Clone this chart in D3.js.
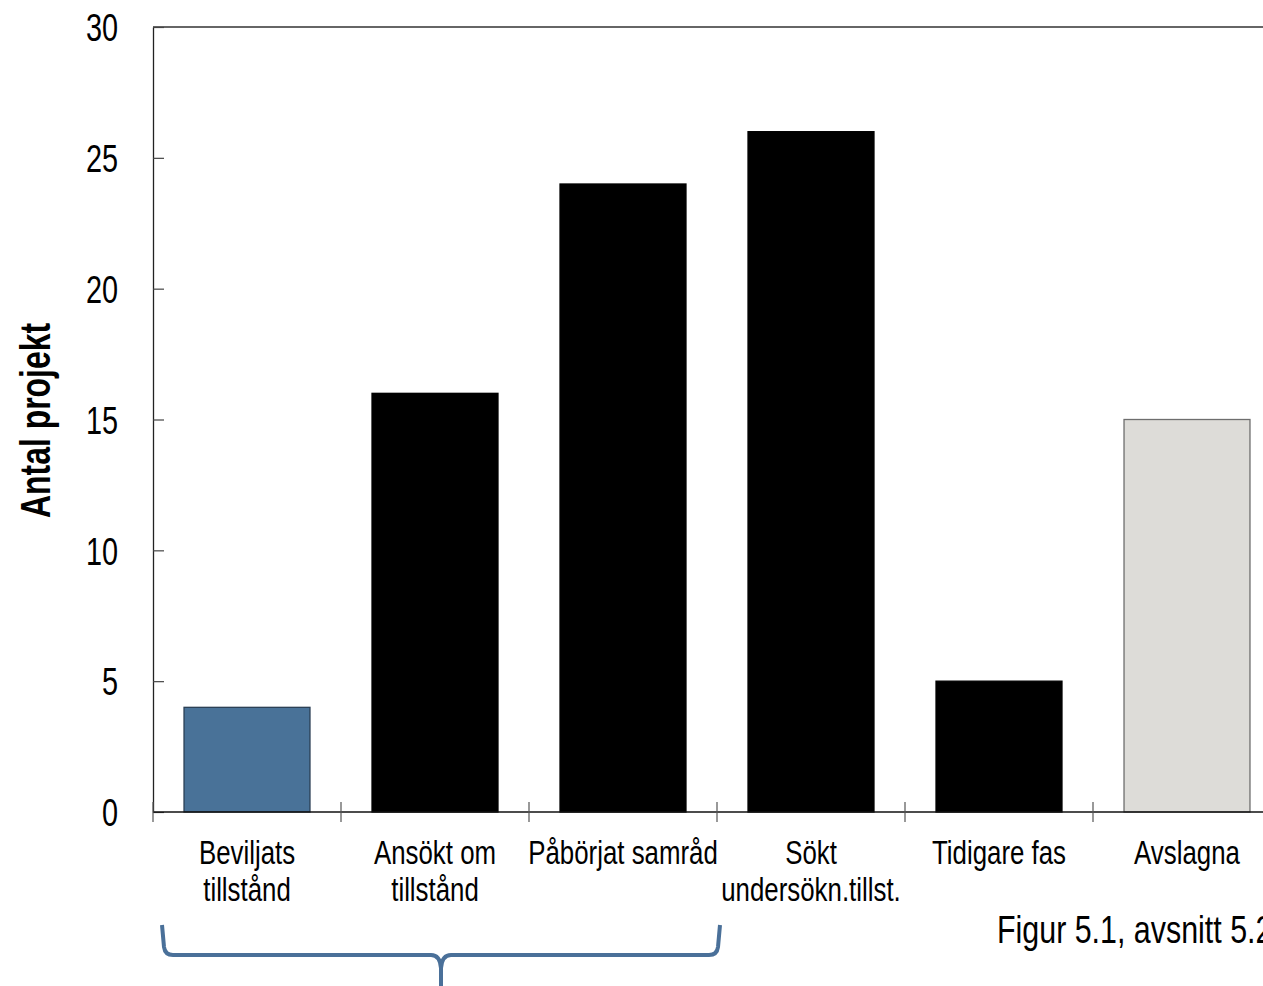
<!DOCTYPE html>
<html>
<head>
<meta charset="utf-8">
<script src="https://cdn.jsdelivr.net/npm/d3@7"></script>
<style>
  body { margin: 0; background: #fff; overflow: hidden; }
  text { font-family: "Liberation Sans", Arial, sans-serif; fill: #000; }
</style>
</head>
<body>
<svg id="chart" width="1263" height="986"></svg>
<script>
// data
const categories = ["Beviljats tillstånd", "Ansökt om tillstånd", "Påbörjat samråd", "Sökt undersökn.tillst.", "Tidigare fas", "Avslagna"];
const labelLines = [["Beviljats", "tillstånd"], ["Ansökt om", "tillstånd"], ["Påbörjat samråd"], ["Sökt", "undersökn.tillst."], ["Tidigare fas"], ["Avslagna"]];
const values = [4, 16, 24, 26, 5, 15];
const yTicks = [0, 5, 10, 15, 20, 25, 30];

// styles
const fills = { "Beviljats tillstånd": "#497298", "Avslagna": "#dddcd8" };
const strokes = { "Beviljats tillstånd": "#2b3f55", "Avslagna": "#6e6e6e" };
const squeeze = 0.76; // no condensed font installed, so squash glyphs horizontally

const svg = d3.select("#chart");
const mLeft = 153, mTop = 27, mBottom = 812, step = 188;

const x = d3.scaleBand()
  .domain(categories)
  .range([mLeft, mLeft + step * categories.length])
  .paddingInner(0.33)
  .paddingOuter(0.165);

const y = d3.scaleLinear().domain([0, 30]).range([mBottom, mTop]);

// frame
svg.append("line")
  .attr("x1", mLeft).attr("x2", x.range()[1])
  .attr("y1", y(30)).attr("y2", y(30))
  .attr("stroke", "#333").attr("stroke-width", 1.3);

// bars
svg.selectAll("rect.bar")
  .data(categories)
  .enter().append("rect")
  .attr("class", "bar")
  .attr("x", d => x(d))
  .attr("width", x.bandwidth())
  .attr("y", (d, i) => y(values[i]))
  .attr("height", (d, i) => y(0) - y(values[i]))
  .attr("fill", d => fills[d] || "#000")
  .attr("stroke", d => strokes[d] || "#000")
  .attr("stroke-width", 1.3);

// y axis
const yAxis = svg.append("g")
  .attr("transform", "translate(" + mLeft + ",0)")
  .call(d3.axisLeft(y).tickValues(yTicks).tickSizeInner(-11).tickSizeOuter(0));
yAxis.select(".domain").attr("stroke", "#222").attr("stroke-width", 1.3);
yAxis.selectAll(".tick line").attr("stroke", "#444").attr("stroke-width", 1.2);
yAxis.selectAll(".tick text")
  .attr("x", 0)
  .attr("dy", "0.36em")
  .attr("transform", "translate(-35,0) scale(" + squeeze + ",1)")
  .attr("font-size", 38)
  .attr("font-family", '"Liberation Sans", Arial, sans-serif')
  .attr("fill", "#000");

// x axis line
svg.append("line")
  .attr("x1", mLeft).attr("x2", x.range()[1])
  .attr("y1", y(0)).attr("y2", y(0))
  .attr("stroke", "#111").attr("stroke-width", 1.5);

// boundary ticks
const bounds = categories.map(d => x(d) - x.step() * x.paddingInner() / 2);
bounds.push(x.range()[1]);
svg.selectAll("line.xtick")
  .data(bounds)
  .enter().append("line")
  .attr("class", "xtick")
  .attr("x1", d => d).attr("x2", d => d)
  .attr("y1", y(0) - 10).attr("y2", y(0) + 10)
  .attr("stroke", "#555").attr("stroke-width", 1.2);

// category labels
const lab = svg.selectAll("text.cat")
  .data(categories)
  .enter().append("text")
  .attr("class", "cat")
  .attr("text-anchor", "middle")
  .attr("font-size", 34)
  .attr("transform", d => "translate(" + (x(d) + x.bandwidth() / 2) + ",864) scale(" + squeeze + ",1)");
lab.selectAll("tspan")
  .data((d, i) => labelLines[i])
  .enter().append("tspan")
  .attr("x", 0)
  .attr("dy", (d, i) => i === 0 ? 0 : 37)
  .text(d => d);

// y title
svg.append("text")
  .attr("transform", "translate(50," + ((mTop + mBottom) / 2 + 1) + ") rotate(-90) scale(" + squeeze + ",1)")
  .attr("text-anchor", "middle")
  .attr("font-size", 42)
  .attr("font-weight", "bold")
  .text("Antal projekt");

// brace under the first three groups
const bx0 = bounds[0] + 9, bx1 = bounds[3] + 3, bm = (bx0 + bx1) / 2;
const by0 = 925, by1 = 955;
svg.append("path")
  .attr("d", `M${bx0},${by0} L${bx0 + 2},${by1 - 8} Q${bx0 + 3},${by1} ${bx0 + 11},${by1}
    L${bm - 10},${by1} Q${bm - 1},${by1} ${bm},${by1 + 13} L${bm},${by1 + 40}
    M${bm},${by1 + 13} Q${bm + 1},${by1} ${bm + 10},${by1}
    L${bx1 - 11},${by1} Q${bx1 - 3},${by1} ${bx1 - 2},${by1 - 8} L${bx1},${by0}`)
  .attr("fill", "none")
  .attr("stroke", "#4a7099")
  .attr("stroke-width", 4);

// caption (runs off the right edge, as in the source image)
svg.append("text")
  .attr("transform", "translate(997,943) scale(0.8,1)")
  .attr("font-size", 38)
  .text("Figur 5.1, avsnitt 5.2");
</script>
</body>
</html>
